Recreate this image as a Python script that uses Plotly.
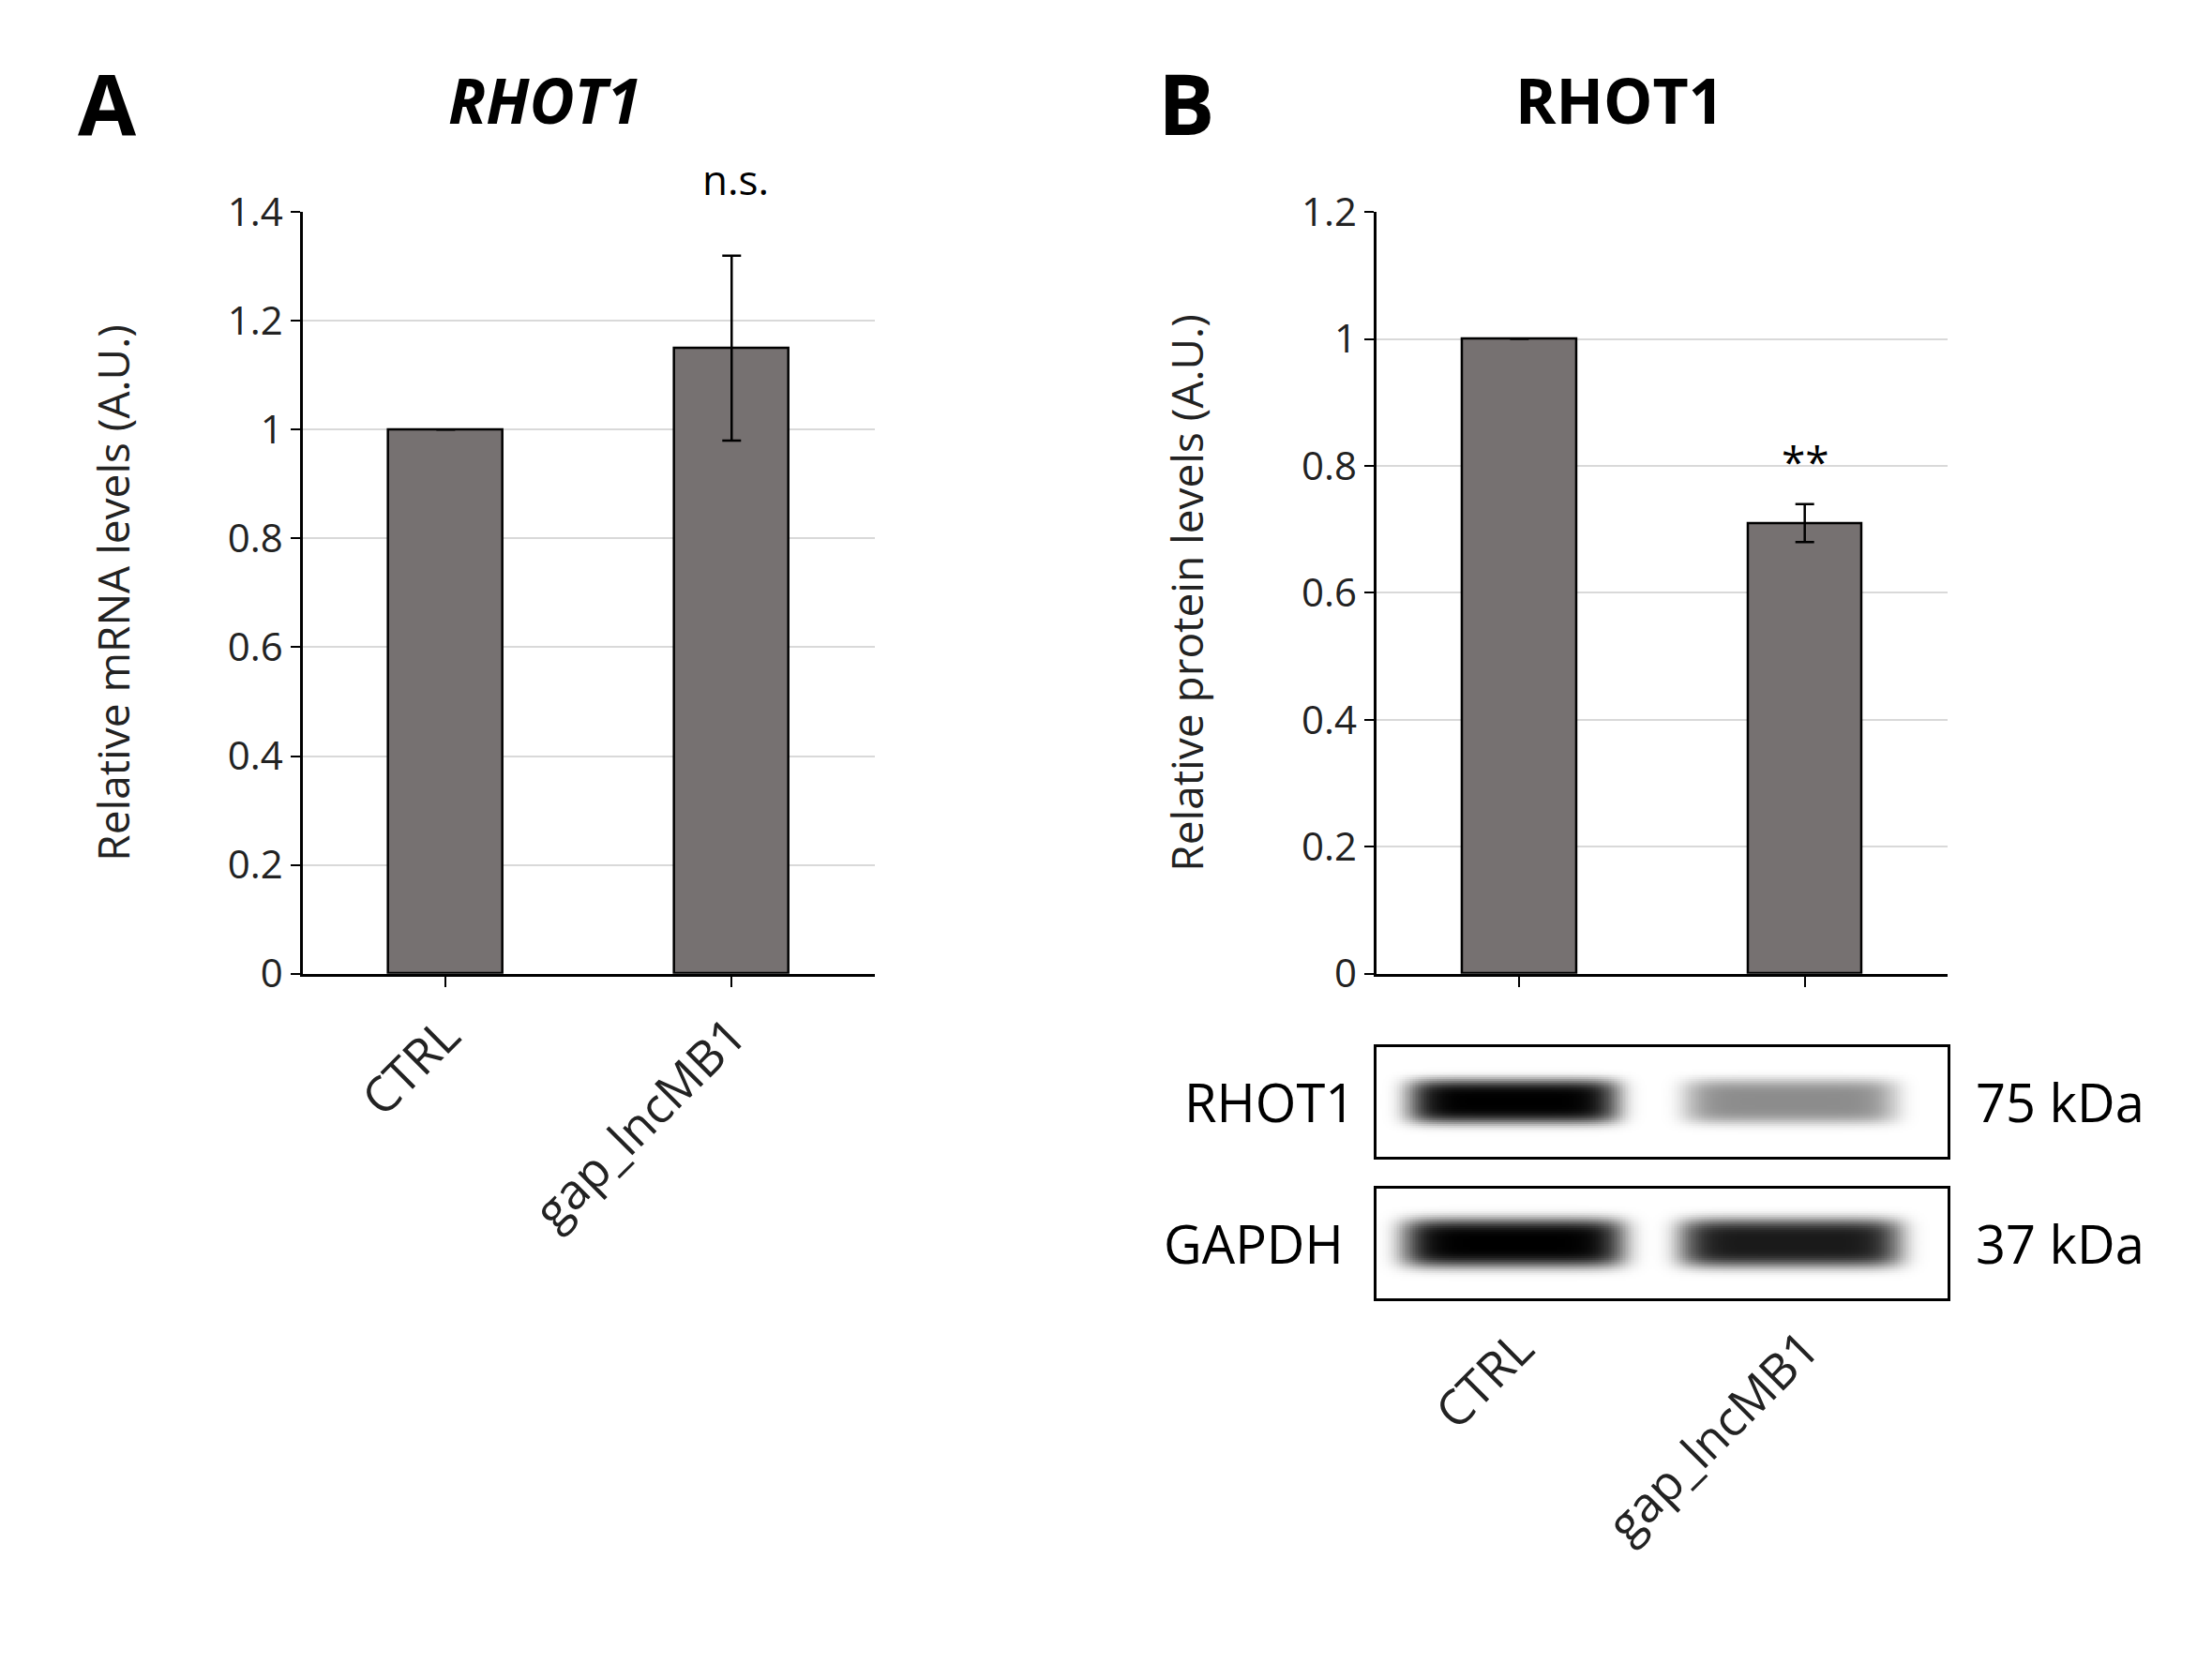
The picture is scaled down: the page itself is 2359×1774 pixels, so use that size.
import numpy as np
import plotly.graph_objects as go

categories = ["CTRL", "gap_lncMB1"]
mrna_vals = [1.0, 1.15]
mrna_err = [0.0, 0.17]
prot_vals = [1.0, 0.71]
prot_err = [0.0, 0.03]
rhot1_band = [1.0, 0.45]
gapdh_band = [1.0, 0.9]
lane_centers = [0.48, 1.45]

W, H = 2359, 1774
FONT = "Open Sans"
BAR = "#767171"
fig = go.Figure()

fig.add_trace(go.Bar(x=[0.5, 1.5], y=mrna_vals, width=0.4, marker=dict(color=BAR, line=dict(color="black", width=2.5)),
                     error_y=dict(type="data", array=mrna_err, color="black", thickness=2.5, width=10),
                     xaxis="x", yaxis="y"))
fig.add_trace(go.Bar(x=[0.5, 1.5], y=prot_vals, width=0.4, marker=dict(color=BAR, line=dict(color="black", width=2.5)),
                     error_y=dict(type="data", array=prot_err, color="black", thickness=2.5, width=10),
                     xaxis="x2", yaxis="y2"))

gx = np.linspace(0, 2, 400)
gy = np.linspace(0, 1, 60)
def blot(ints, hw, hh):
    z = np.zeros((len(gy), len(gx)))
    for c, a in zip(lane_centers, ints):
        z += a * np.exp(-((gx[None, :] - c) / hw) ** 8) * np.exp(-((gy[:, None] - 0.5) / hh) ** 4)
    return z
cs = [[0, "white"], [1, "black"]]
fig.add_trace(go.Heatmap(x=gx, y=gy, z=blot(rhot1_band, 0.37, 0.2), colorscale=cs, zmin=0, zmax=1,
                         showscale=False, xaxis="x3", yaxis="y3", hoverinfo="skip"))
fig.add_trace(go.Heatmap(x=gx, y=gy, z=blot(gapdh_band, 0.39, 0.22), colorscale=cs, zmin=0, zmax=1,
                         showscale=False, xaxis="x4", yaxis="y4", hoverinfo="skip"))

tickf = dict(family=FONT, size=42, color="#222")
catf = dict(family=FONT, size=52, color="#222")
def xbar(dom, anchor, show):
    return dict(domain=dom, anchor=anchor, range=[0, 2], tickvals=[0.5, 1.5], ticktext=categories,
                tickson="boundaries", ticks="outside", ticklen=12, tickwidth=2, tickcolor="black",
                showline=True, linecolor="black", linewidth=2.5, showgrid=False, tickangle=-45,
                showticklabels=show, tickfont=catf, automargin=False)
def ybar(dom, anchor, rng, title):
    return dict(domain=dom, anchor=anchor, range=rng, dtick=0.2, ticks="outside", ticklen=10, tickwidth=2,
                tickcolor="black", showline=True, linecolor="black", linewidth=2.5, gridcolor="#d9d9d9",
                gridwidth=2, zeroline=False, tickfont=tickf, automargin=False,
                title=dict(text=title, font=dict(family=FONT, size=46, color="#222"), standoff=90))
blotx = lambda anchor, show: dict(domain=[0.619, 0.877], anchor=anchor, range=[0, 2], tickvals=[0.5, 1.5],
                                  ticktext=categories, showticklabels=show, ticks="", showgrid=False, zeroline=False,
                                  showline=True, mirror=True, linecolor="black", linewidth=2.5, tickangle=-45,
                                  tickfont=catf, automargin=False)
bloty = lambda dom, anchor: dict(domain=dom, anchor=anchor, range=[0, 1], showticklabels=False, showgrid=False,
                                 zeroline=False, showline=True, mirror=True, linecolor="black", linewidth=2.5,
                                 automargin=False)

fig.update_layout(
    width=W, height=H, margin=dict(l=0, r=0, t=0, b=0, autoexpand=False), showlegend=False, bargap=0,
    plot_bgcolor="white", paper_bgcolor="white",
    xaxis=xbar([0.1335, 0.392], "y", True), yaxis=ybar([0.419, 0.877], "x", [0, 1.4], "Relative mRNA levels (A.U.)"),
    xaxis2=xbar([0.619, 0.877], "y2", False), yaxis2=ybar([0.419, 0.877], "x2", [0, 1.2], "Relative protein levels (A.U.)"),
    xaxis3=blotx("y3", False), yaxis3=bloty([0.309, 0.375], "x3"),
    xaxis4=blotx("y4", True), yaxis4=bloty([0.224, 0.290], "x4"),
)
ann = [
    dict(x=0.045, y=0.943, text="<b>A</b>", size=90, xa="center"),
    dict(x=0.243, y=0.945, text="<b><i>RHOT1</i></b>", size=66, xa="center"),
    dict(x=0.533, y=0.943, text="<b>B</b>", size=90, xa="center"),
    dict(x=0.729, y=0.945, text="<b>RHOT1</b>", size=66, xa="center"),
    dict(x=0.329, y=0.897, text="n.s.", size=44, xa="center"),
    dict(x=0.813, y=0.727, text="**", size=46, xa="center"),
    dict(x=0.610, y=0.342, text="RHOT1", size=56, xa="right"),
    dict(x=0.605, y=0.257, text="GAPDH", size=56, xa="right"),
    dict(x=0.889, y=0.342, text="75 kDa", size=56, xa="left"),
    dict(x=0.889, y=0.257, text="37 kDa", size=56, xa="left"),
]
fig.update_layout(annotations=[dict(xref="paper", yref="paper", x=a["x"], y=a["y"], text=a["text"], showarrow=False,
                                    xanchor=a["xa"], yanchor="middle",
                                    font=dict(family=FONT, size=a["size"], color="black")) for a in ann])
fig.write_html("out.html")
